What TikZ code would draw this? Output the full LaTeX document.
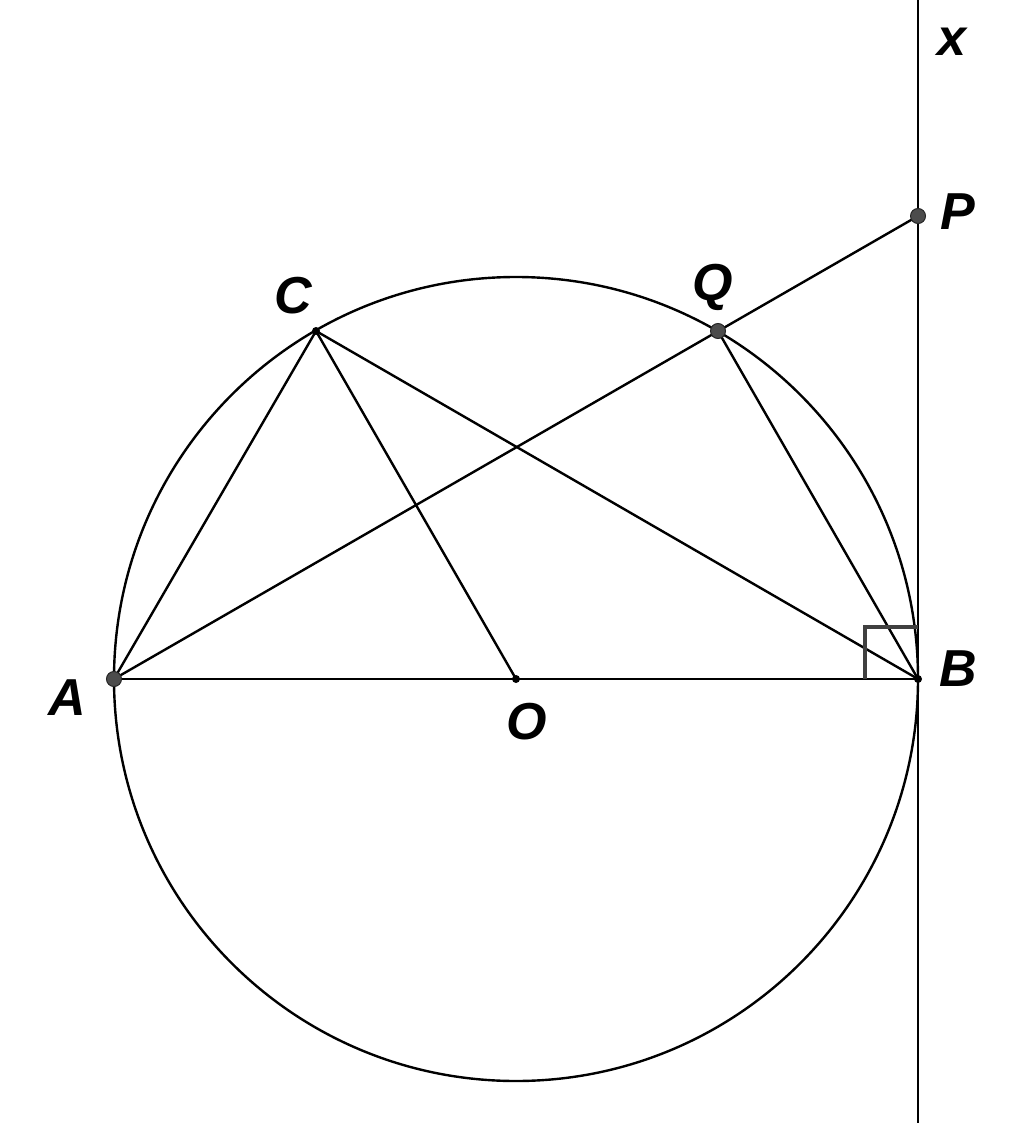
\documentclass[tikz,border=0pt]{standalone}
\usepackage{fontspec}
\setmainfont{Liberation Sans}
\begin{document}
\begin{tikzpicture}[x=1pt,y=-1pt,
  seg/.style={line width=2.4pt,black},
  bigdot/.style={circle,fill=black!70,draw=black!85,line width=1pt,inner sep=0pt,minimum size=15pt},
  smalldot/.style={circle,fill=black,inner sep=0pt,minimum size=8pt},
  lab/.style={font=\fontsize{52}{52}\selectfont\bfseries\itshape,inner sep=0pt}]
\useasboundingbox (0,0) rectangle (1024,1123);
\coordinate (O) at (516,679);
\coordinate (A) at (114,679);
\coordinate (B) at (918,679);
\coordinate (C) at (316,331);
\coordinate (Q) at (718,331);
\coordinate (P) at (918,216);
\coordinate (T) at (918,0);
\coordinate (D) at (918,1123);
\draw[seg] (O) circle (402);
\draw[seg] (T) -- (D);
\draw[seg] (A) -- (B);
\draw[seg] (A) -- (C) -- (B);
\draw[seg] (C) -- (O);
\draw[seg] (A) -- (P);
\draw[seg] (Q) -- (B);
\draw[line width=3.2pt,black!75] (B) ++(-53,0) coordinate (S1) -- ++(0,-52) coordinate (S2) -- ++(53,0) coordinate (S3);
\node[bigdot] (nA) at (A) {};
\node[bigdot] (nP) at (P) {};
\node[bigdot] (nQ) at (Q) {};
\node[smalldot] (nC) at (C) {};
\node[smalldot] (nO) at (O) {};
\node[smalldot] (nB) at (B) {};
\node[lab] (lx) at (952,42) {x};
\node[lab] (lP) at (958,212) {P};
\node[lab] (lQ) at (713,287) {Q};
\node[lab] (lC) at (293,296) {C};
\node[lab] (lA) at (67,698) {A};
\node[lab] (lO) at (527,722) {O};
\node[lab] (lB) at (958,669) {B};
\end{tikzpicture}
\end{document}
